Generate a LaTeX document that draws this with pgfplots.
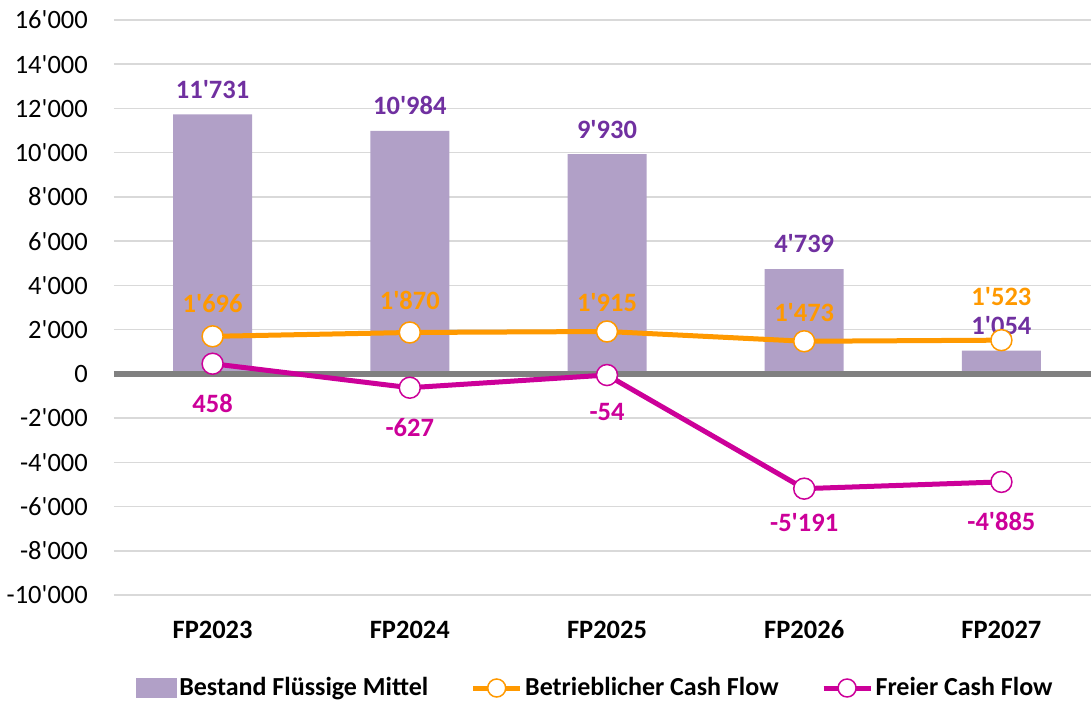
\documentclass[border=0pt]{standalone}
\usepackage{pgfplots}
\pgfplotsset{compat=1.18}
\usepackage{pgfplotstable}
\usepackage{fontspec}
\setmainfont{Carlito}
\definecolor{barc}{HTML}{B1A0C7}
\definecolor{orc}{HTML}{FF9900}
\definecolor{mgc}{HTML}{CC0099}
\definecolor{pur}{HTML}{7030A0}
\definecolor{gridc}{HTML}{D9D9D9}
\definecolor{zeroc}{HTML}{808080}
\newcommand{\fs}{\fontsize{26.5}{31}\selectfont}
\newcommand{\lfs}{\fontsize{26}{31}\selectfont}

\pgfplotstableread{
x bar op fcf opd fcd
0 11731 1696 458 33 -40
1 10984 1870 -627 32 -40
2 9930 1915 -54 29 -37
3 4739 1473 -5191 29 -34
4 1054 1523 -4885 44 -40
}\data

\begin{document}
\fs
\begin{tikzpicture}[font=\fs]
\useasboundingbox (-114pt,-109pt) rectangle (977pt,595pt);
\begin{axis}[
  at={(0pt,0pt)}, anchor=south west,
  scale only axis, width=986pt, height=575pt,
  xmin=-0.5, xmax=4.5, ymin=-10000, ymax=16000,
  ytick={-10000,-8000,...,16000},
  scaled y ticks=false,
  xtick={0,1,2,3,4},
  xticklabels={FP2023,FP2024,FP2025,FP2026,FP2027},
  axis line style={draw=none},
  major tick length=0pt,
  ymajorgrids, grid style={gridc, line width=1.5pt},
  clip=false,
  /pgf/number format/assume math mode=true,
  /pgf/number format/fixed,
  /pgf/number format/precision=0,
  /pgf/number format/1000 sep={\textquotesingle},
  tick label style={font=\fs},
  xticklabel style={font=\fs\bfseries, inner sep=0pt, anchor=center, yshift=-35pt},
  yticklabel style={inner sep=0pt, anchor=east, xshift=-26pt},
  legend columns=3,
  legend style={at={(0.4883,0)}, anchor=center, yshift=-93pt, draw=none, fill=none,
    font=\lfs\bfseries, inner sep=0pt,
    nodes={inner sep=2.5pt},
    /tikz/every even column/.append style={column sep=40pt}},
]
\addplot[ybar, bar width=79pt, fill=barc, draw=none,
  nodes near coords,
  nodes near coords style={font=\fs\bfseries, text=pur, anchor=center, yshift=25pt, inner sep=0pt},
  legend image code/.code={\fill[barc] (0pt,-10pt) rectangle (41pt,10pt);}]
  table[x=x,y=bar]{\data};
\addlegendentry{Bestand Flüssige Mittel}
\addplot[zeroc, line width=5.5pt, forget plot] coordinates {(-0.5,0) (4.5,0)};
\addplot[orc, line width=5pt, mark=*, mark size=10.5pt,
  mark options={solid, fill=white, draw=orc, line width=1.5pt},
  nodes near coords,
  visualization depends on={\thisrow{opd} \as \dy},
  nodes near coords style={font=\fs\bfseries, text=orc, anchor=center, yshift=\dy pt, inner sep=0pt},
  legend image code/.code={\draw[orc, line width=5pt] (0pt,0pt) -- (47pt,0pt);
     \draw[orc, fill=white, line width=1.5pt] (23.5pt,0pt) circle (9pt);}]
  table[x=x,y=op]{\data};
\addlegendentry{Betrieblicher Cash Flow}
\addplot[mgc, line width=5pt, mark=*, mark size=10.5pt,
  mark options={solid, fill=white, draw=mgc, line width=1.5pt},
  nodes near coords,
  visualization depends on={\thisrow{fcd} \as \dy},
  nodes near coords style={font=\fs\bfseries, text=mgc, anchor=center, yshift=\dy pt, inner sep=0pt},
  legend image code/.code={\draw[mgc, line width=5pt] (0pt,0pt) -- (47pt,0pt);
     \draw[mgc, fill=white, line width=1.5pt] (23.5pt,0pt) circle (9pt);}]
  table[x=x,y=fcf]{\data};
\addlegendentry{Freier Cash Flow}
\end{axis}
\end{tikzpicture}
\end{document}
